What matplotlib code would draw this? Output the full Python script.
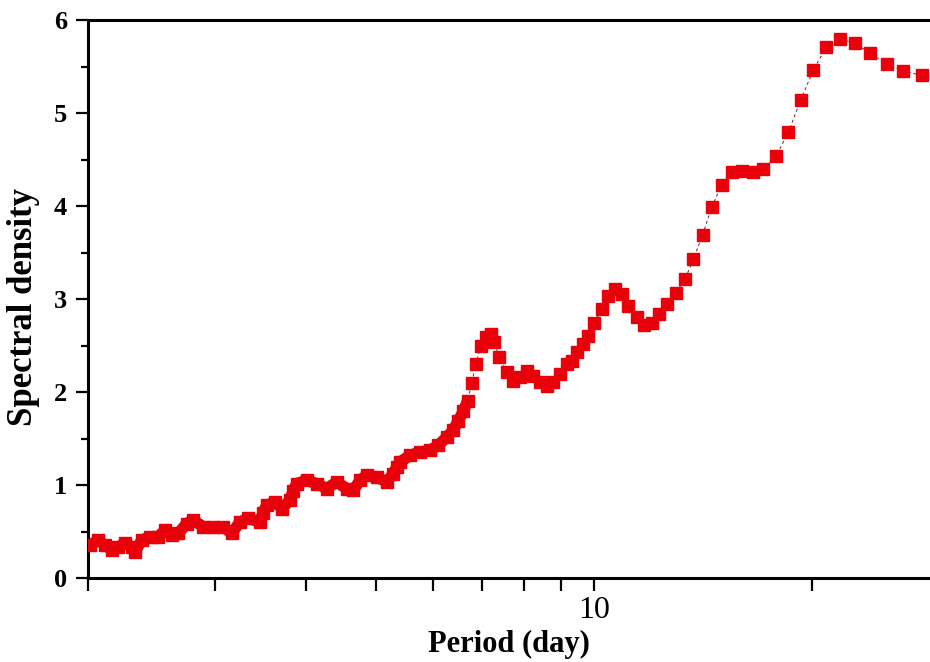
import matplotlib
matplotlib.use('Agg')
import matplotlib.pyplot as plt
from matplotlib.ticker import FixedLocator, MultipleLocator, NullFormatter

# period (day) and spectral density
period = [2.013, 2.067, 2.111, 2.157, 2.203, 2.250, 2.298, 2.323, 2.373, 2.436,
          2.502, 2.555, 2.610, 2.666, 2.738, 2.796, 2.887, 2.980, 3.076, 3.159,
          3.244, 3.331, 3.457, 3.490, 3.532, 3.627, 3.705, 3.804, 3.840, 3.886,
          4.011, 4.141, 4.275, 4.413, 4.556, 4.653, 4.753, 4.856, 5.012, 5.174,
          5.284, 5.342, 5.398, 5.573, 5.753, 5.939, 6.098, 6.263, 6.396, 6.499,
          6.603, 6.697, 6.782, 6.877, 6.979, 7.098, 7.211, 7.288, 7.405, 7.581,
          7.742, 7.909, 8.079, 8.250, 8.428, 8.610, 8.793, 8.982, 9.176, 9.323,
          9.472, 9.654, 9.827, 10.01, 10.26, 10.45, 10.70, 10.93, 11.16, 11.47,
          11.73, 12.03, 12.32, 12.64, 12.99, 13.37, 13.73, 14.14, 14.56, 15.03,
          15.51, 16.01, 16.58, 17.15, 17.86, 18.58, 19.32, 20.12, 20.95, 21.90,
          22.97, 24.09, 25.41, 26.79, 28.40]

density = [0.357, 0.410, 0.357, 0.303, 0.339, 0.375, 0.339, 0.285, 0.410, 0.446,
           0.446, 0.518, 0.464, 0.482, 0.589, 0.625, 0.553, 0.553, 0.553, 0.482,
           0.606, 0.643, 0.606, 0.700, 0.785, 0.821, 0.750, 0.839, 0.935, 1.018,
           1.053, 1.018, 0.964, 1.035, 0.964, 0.946, 1.053, 1.107, 1.089, 1.035,
           1.125, 1.193, 1.249, 1.321, 1.356, 1.375, 1.428, 1.517, 1.589, 1.696,
           1.793, 1.910, 2.096, 2.307, 2.500, 2.596, 2.628, 2.535, 2.374, 2.214,
           2.125, 2.160, 2.232, 2.178, 2.106, 2.071, 2.106, 2.196, 2.304, 2.339,
           2.428, 2.518, 2.607, 2.739, 2.893, 3.035, 3.107, 3.054, 2.928, 2.803,
           2.725, 2.739, 2.839, 2.946, 3.071, 3.214, 3.429, 3.689, 3.989, 4.232,
           4.367, 4.382, 4.367, 4.399, 4.535, 4.793, 5.139, 5.464, 5.707, 5.797,
           5.750, 5.642, 5.524, 5.454, 5.404]

xticks = [2, 3, 4, 5, 6, 7, 8, 9, 10, 20]

# below this period the points sit so close that the markers merge into a band
dense_until = 6.7

font = 'Liberation Serif'
red = '#e8000a'

fig = plt.figure(figsize=(9.3, 6.62), dpi=100)
ax = fig.add_axes([0.0946, 0.1264, 0.9054, 0.8434])

# solid band under the dense part
n_dense = sum(1 for p in period if p <= dense_until)
ax.plot(period[:n_dense], density[:n_dense], color=red, lw=8.3,
        solid_capstyle='butt', solid_joinstyle='round', zorder=2)

ax.plot(period, density, color='#5a2828', lw=0.7, ls='--', dashes=(3, 3),
        marker='s', ms=8.3, mfc=red, mec=red, zorder=3)

ax.set_xscale('log')
ax.set_xlim(2, 29.16)
ax.set_ylim(0, 6)

# x ticks: all the same length, only 10 gets a label
ax.xaxis.set_major_locator(FixedLocator(xticks))
ax.xaxis.set_minor_locator(FixedLocator([]))
ax.set_xticklabels(['' if t != 10 else '10' for t in xticks])
ax.xaxis.set_minor_formatter(NullFormatter())

ax.yaxis.set_major_locator(MultipleLocator(1))
ax.yaxis.set_minor_locator(MultipleLocator(0.5))

ax.tick_params(axis='both', which='major', direction='out', length=9, width=1.6)
ax.tick_params(axis='y', which='minor', direction='out', length=5, width=1.6)
ax.tick_params(axis='x', which='major', pad=4)
ax.tick_params(axis='y', which='major', pad=6)

for lab in ax.get_yticklabels():
    lab.set_fontfamily(font)
    lab.set_fontweight('bold')
    lab.set_fontsize(19)
for lab in ax.get_xticklabels():
    lab.set_fontfamily(font)
    lab.set_fontsize(23)

ax.set_xlabel('Period (day)', fontfamily=font, fontweight='bold', fontsize=22, labelpad=3)
ax.set_ylabel('Spectral density', fontfamily=font, fontweight='bold', fontsize=25)
ax.yaxis.set_label_coords(-0.057, 0.486)

ax.spines['right'].set_visible(False)
for s in ['left', 'bottom', 'top']:
    ax.spines[s].set_linewidth(2.2)

fig.savefig('out.png', dpi=100)
